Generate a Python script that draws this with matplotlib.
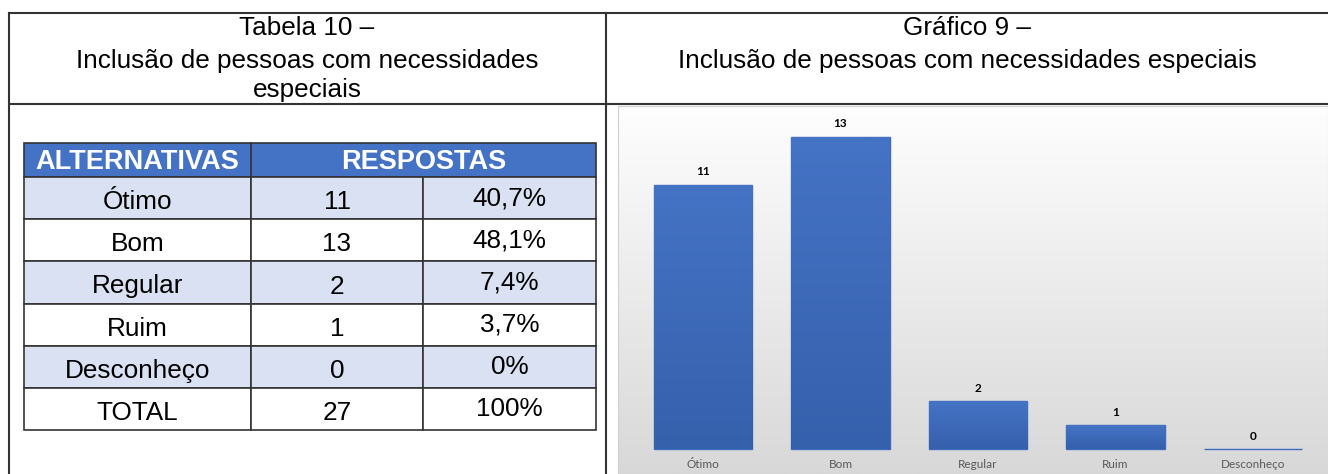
import numpy as np
import matplotlib.pyplot as plt
from matplotlib.colors import LinearSegmentedColormap

plt.rcParams['font.family'] = ['Liberation Sans', 'DejaVu Sans']

# data
categories = ['Ótimo', 'Bom', 'Regular', 'Ruim', 'Desconheço']
counts = [11, 13, 2, 1, 0]
percents = ['40,7%', '48,1%', '7,4%', '3,7%', '0%']
total_label = 'TOTAL'
total_count = 27
total_percent = '100%'

left_title = ['Tabela 10 –', 'Inclusão de pessoas com necessidades', 'especiais']
right_title = ['Gráfico 9 –', 'Inclusão de pessoas com necessidades especiais']

fig = plt.figure(figsize=(13.28, 4.74), dpi=100)
fig.patch.set_facecolor('white')

# page layer in pixel coordinates
page = fig.add_axes([0, 0, 1, 1])
page.set_xlim(0, 1328)
page.set_ylim(474, 0)
page.axis('off')

frame_kw = dict(color='#333333', lw=1.5)
page.plot([9, 1328], [13, 13], **frame_kw)
page.plot([9, 1328], [104, 104], **frame_kw)
page.plot([9, 9], [13, 474], **frame_kw)
page.plot([606, 606], [13, 474], **frame_kw)

for txt, y in zip(left_title, [28, 61, 90]):
    page.text(307, y, txt, ha='center', va='center', fontsize=18.8)
for txt, y in zip(right_title, [28, 61]):
    page.text(967, y, txt, ha='center', va='center', fontsize=18.8)

# table
col_x = [24, 251, 423, 596]
header_top, header_bot = 143, 177
row_h = 42.2
blue = '#4472C4'
light = '#D9E1F2'

page.add_patch(plt.Rectangle((col_x[0], header_top), col_x[3] - col_x[0],
                             header_bot - header_top, facecolor=blue,
                             edgecolor='#333333', lw=1.2))
page.plot([col_x[1], col_x[1]], [header_top, header_bot], color='#333333', lw=1.2)
page.text((col_x[0] + col_x[1]) / 2, 162, 'ALTERNATIVAS', ha='center', va='center',
          fontsize=19.5, fontweight='bold', color='white')
page.text((col_x[1] + col_x[3]) / 2, 162, 'RESPOSTAS', ha='center', va='center',
          fontsize=19.5, fontweight='bold', color='white')

rows = list(zip(categories, counts, percents)) + [(total_label, total_count, total_percent)]
for i, (name, n, pct) in enumerate(rows):
    top = header_bot + i * row_h
    fc = light if i % 2 == 0 else 'white'
    for c in range(3):
        page.add_patch(plt.Rectangle((col_x[c], top), col_x[c + 1] - col_x[c], row_h,
                                     facecolor=fc, edgecolor='#333333', lw=1.2))
    yc = top + row_h / 2
    page.text((col_x[0] + col_x[1]) / 2, yc + 4, name, ha='center', va='center', fontsize=18.8)
    page.text((col_x[1] + col_x[2]) / 2, yc + 4, str(n), ha='center', va='center', fontsize=18.8)
    page.text((col_x[2] + col_x[3]) / 2, yc, pct, ha='center', va='center', fontsize=18.8)

# bar chart panel
px0, px1, py0, py1 = 618, 1328, 106, 474
ax = fig.add_axes([px0 / 1328, 1 - py1 / 474, (px1 - px0) / 1328, (py1 - py0) / 474])
spacing = 137.5
unit = 24.0
base_y = 448.7
x_left = (px0 - 703) / spacing
x_right = x_left + (px1 - px0) / spacing
y_bot = -(py1 - base_y) / unit
y_top = (base_y - py0) / unit

bg = LinearSegmentedColormap.from_list('bg', ['#d8d8d8', '#fefefe'])
grad = np.linspace(0, 1, 256).reshape(-1, 1)
ax.imshow(grad, cmap=bg, aspect='auto', origin='lower',
          extent=[x_left, x_right, y_bot, y_top], zorder=0)

barcmap = LinearSegmentedColormap.from_list('bar', ['#3560AC', '#4573C5'])
x = np.arange(len(categories))
bars = ax.bar(x, counts, width=0.715, color='#3F6BBC', edgecolor='#3F6BBC', lw=1, zorder=2)
for b in bars:
    if b.get_height() > 0:
        im = ax.imshow(grad, cmap=barcmap, aspect='auto', origin='lower',
                       extent=[b.get_x(), b.get_x() + b.get_width(), 0, b.get_height()],
                       zorder=3)
        im.set_clip_path(b)

for xi, v, name in zip(x, counts, categories):
    ax.text(xi, v + 0.3, str(v), ha='center', va='bottom', fontsize=8.5,
            fontweight='bold', family=['Lato', 'DejaVu Sans'], color='black')
    ax.text(xi, -0.64, name, ha='center', va='center', fontsize=8.5,
            family=['Lato', 'DejaVu Sans'], color='#595959')

ax.set_xlim(x_left, x_right)
ax.set_ylim(y_bot, y_top)
ax.set_xticks([])
ax.set_yticks([])
for s in ax.spines.values():
    s.set_color('#d0d0d0')
    s.set_linewidth(0.8)

fig.savefig('out.png', dpi=100)
